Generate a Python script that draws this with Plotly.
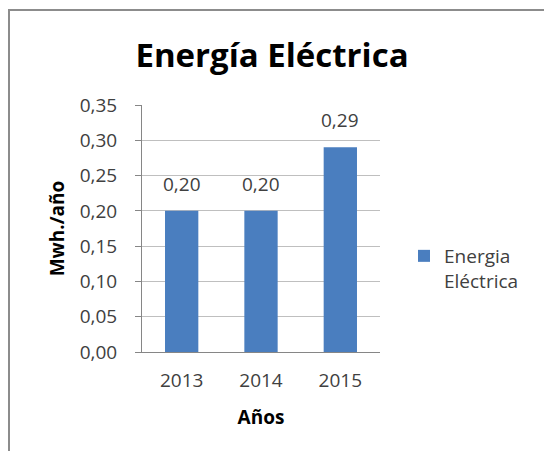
import plotly.graph_objects as go

years = ["2013", "2014", "2015"]
values = [0.20, 0.20, 0.29]
series_name = "Energia<br>Eléctrica"
y_ticks = [0.00, 0.05, 0.10, 0.15, 0.20, 0.25, 0.30, 0.35]

W, H = 544, 451
L, R, T, B = 142, 164, 105, 99
pw, ph = W - L - R, H - T - B

def px_x(x):
    return (x - L) / pw

def px_y(y):
    return 1 - (y - T) / ph

font = "Open Sans"
gray = "#404040"

fig = go.Figure()
fig.add_trace(go.Bar(
    x=years, y=values, name=series_name,
    marker=dict(color="#4A7EBF", line=dict(width=0)),
    showlegend=True,
))

# category axis: annotation positions use category index
for i, v in enumerate(values):
    fig.add_annotation(x=i, y=v, xref="x", yref="y",
                       text=f"{v:.2f}".replace(".", ","),
                       showarrow=False, yanchor="middle", yshift=27,
                       font=dict(family=font, size=19, color=gray))

fig.update_layout(
    width=W, height=H,
    margin=dict(l=L, r=R, t=T, b=B),
    paper_bgcolor="white", plot_bgcolor="white",
    separators=",.",
    bargap=0.58,
    title=dict(text="<b>Energía Eléctrica</b>", x=0.5, xanchor="center",
               y=1 - 55 / H, yanchor="middle",
               font=dict(family=font, size=33, color="black")),
    font=dict(family=font, size=19, color=gray),
    legend=dict(x=px_x(404), y=px_y(237), xanchor="left", yanchor="top",
                valign="top",
                font=dict(family=font, size=19, color=gray),
                itemwidth=30, bgcolor="rgba(0,0,0,0)"),
    xaxis=dict(
        type="category",
        range=[-0.5, len(years) - 0.5],
        title=dict(text="<b>Años</b>", font=dict(family=font, size=19, color="black"), standoff=18),
        showline=True, linecolor="#868686", linewidth=1,
        ticks="", tickfont=dict(family=font, size=19, color=gray),
        ticklabelstandoff=11,
        showgrid=False,
    ),
    yaxis=dict(
        title=dict(text="<b>Mwh./año</b>", font=dict(family=font, size=19, color="black"), standoff=10),
        range=[0, 0.35], tickvals=y_ticks,
        tickformat=".2f",
        showline=True, linecolor="#868686", linewidth=1,
        ticks="outside", ticklen=6, tickcolor="#868686",
        ticklabelstandoff=14,
        showgrid=True, gridcolor="#BFBFBF", gridwidth=1,
        tickfont=dict(family=font, size=19, color=gray),
        zeroline=False,
    ),
    shapes=[
        dict(type="line", xref="paper", yref="paper",
             x0=px_x(8), x1=px_x(544), y0=px_y(10), y1=px_y(10),
             line=dict(color="#8C8C8C", width=2)),
        dict(type="line", xref="paper", yref="paper",
             x0=px_x(9), x1=px_x(9), y0=px_y(10), y1=px_y(451),
             line=dict(color="#8C8C8C", width=2)),
    ],
)

fig.write_html("out.html", config={"displayModeBar": False},
               post_script="document.body.style.margin='0px';")
